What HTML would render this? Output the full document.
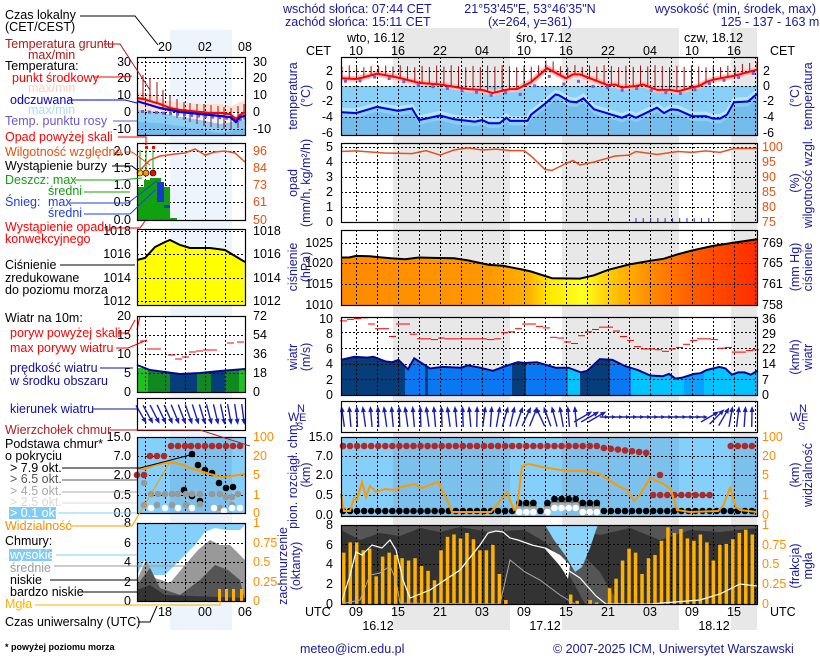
<!DOCTYPE html>
<html><head><meta charset="utf-8"><style>
body{margin:0;background:#fff;width:820px;height:660px;overflow:hidden}
svg{display:block;font-family:"Liberation Sans",sans-serif}
</style></head><body>
<svg id="s" width="820" height="660" viewBox="0 0 820 660" xmlns="http://www.w3.org/2000/svg">
<defs>
<linearGradient id="pg" x1="0" x2="1" y1="0" y2="0">
<stop offset="0" stop-color="#ff8a00"/><stop offset="0.35" stop-color="#ff9800"/><stop offset="0.45" stop-color="#ffb000"/>
<stop offset="0.5" stop-color="#ffe800"/><stop offset="0.58" stop-color="#ffff20"/><stop offset="0.66" stop-color="#ffc000"/>
<stop offset="0.75" stop-color="#ff8800"/><stop offset="0.85" stop-color="#ff5a00"/><stop offset="1" stop-color="#ff2c00"/>
</linearGradient>
</defs>
<rect x="393" y="28" width="117" height="602" fill="#e8e8e8"/>
<rect x="562" y="28" width="117" height="602" fill="#e8e8e8"/>
<rect x="731" y="28" width="26" height="602" fill="#e8e8e8"/>
<rect x="170" y="30" width="62" height="600" fill="#eef4fc"/>
<g id="g"></g>
<g font-size="12.5" fill="#1a1a9c">
<text x="283" y="13">wschód słońca: 07:44 CET</text>
<text x="285" y="26">zachód słońca: 15:11 CET</text>
<text x="530" y="13" text-anchor="middle">21°53'45"E, 53°46'35"N</text>
<text x="530" y="26" text-anchor="middle">(x=264, y=361)</text>
<text x="816" y="13" text-anchor="end">wysokość (min, środek, max)</text>
<text x="770" y="26" text-anchor="middle">125 - 137 - 163 m</text>
<text x="300" y="653">meteo@icm.edu.pl</text>
<text x="553" y="653">© 2007-2025 ICM, Uniwersytet Warszawski</text>
</g>
<g font-size="12.5" fill="#000">
<text x="347" y="42">wto, 16.12</text><text x="516" y="42">śro, 17.12</text><text x="684" y="42">czw, 18.12</text>
<text x="306" y="55">CET</text><text x="770" y="55">CET</text>
<text x="305" y="616">UTC</text><text x="770" y="616">UTC</text>
<text x="378" y="630" text-anchor="middle">16.12</text><text x="545" y="630" text-anchor="middle">17.12</text><text x="714" y="630" text-anchor="middle">18.12</text>
</g>
<g font-size="12.5">
<text x="5" y="19">Czas lokalny</text><text x="5" y="31">(CET/CEST)</text>
<text x="5" y="48" fill="#b01818">Temperatura gruntu</text><text x="28" y="59" fill="#b01818">max/min</text>
<text x="5" y="70">Temperatura:</text>
<text x="12" y="82" fill="#f00">punkt środkowy</text>
<text x="28" y="92" fill="#ffd0c0">max/min</text>
<text x="10" y="104" fill="#0000e0">odczuwana</text>
<text x="28" y="114" fill="#a8dcf8">max/min</text>
<text x="5" y="125" fill="#6a5ad0">Temp. punktu rosy</text>
<text x="5" y="141" fill="#f00">Opad powyżej skali</text>
<text x="5" y="156" fill="#e85010">Wilgotność względna</text>
<text x="5" y="170">Wystąpienie burzy</text>
<text x="5" y="184" fill="#10a010">Deszcz: max</text>
<text x="48" y="195" fill="#10a010">średni</text>
<text x="5" y="206" fill="#2040e0">Śnieg:</text><text x="48" y="206" fill="#2040e0">max</text>
<text x="48" y="217" fill="#2040e0">średni</text>
<text x="5" y="231" fill="#f00">Wystąpienie opadu</text><text x="5" y="243" fill="#f00">konwekcyjnego</text>
<text x="5" y="269">Ciśnienie</text><text x="5" y="282">zredukowane</text><text x="5" y="294">do poziomu morza</text>
<text x="5" y="322">Wiatr na 10m:</text>
<text x="10" y="337" fill="#f00">poryw powyżej skali</text>
<text x="10" y="352" fill="#f00">max porywy wiatru</text>
<text x="10" y="372" fill="#1010a0">prędkość wiatru</text><text x="10" y="385" fill="#1010a0">w środku obszaru</text>
<text x="10" y="413" fill="#1010a0">kierunek wiatru</text>
<text x="5" y="434" fill="#b02020">Wierzchołek chmur</text>
<text x="5" y="448">Podstawa chmur*</text><text x="5" y="460">o pokryciu</text>
<text x="10" y="472">&gt; 7.9 okt.</text>
<text x="10" y="483" fill="#555">&gt; 6.5 okt.</text>
<text x="10" y="495" fill="#a8a8a8">&gt; 4.5 okt.</text>
<text x="10" y="506" fill="#d8d8d8">&gt; 2.5 okt.</text>
<rect x="9" y="507" width="47" height="12" fill="#80ccf4"/><text x="10" y="517" fill="#fff">&gt; 0.1 okt.</text>
<text x="5" y="530" fill="#ff8c00">Widzialność</text>
<text x="5" y="545">Chmury:</text>
<rect x="9" y="549" width="43" height="12" fill="#80ccf4"/><text x="10" y="559" fill="#fff">wysokie</text>
<text x="10" y="572" fill="#999">średnie</text>
<text x="10" y="584">niskie</text>
<text x="10" y="596">bardzo niskie</text>
<text x="5" y="608" fill="#ffb000">Mgła</text>
<text x="5" y="626">Czas uniwersalny (UTC)</text>
<text x="5" y="650" font-size="9" font-weight="bold">* powyżej poziomu morza</text>
</g>
<g id="fg"></g>
</svg>
<script>
const NS="http://www.w3.org/2000/svg";
const G=document.getElementById('g'),F=document.getElementById('fg');
function el(p,t,a,txt){const e=document.createElementNS(NS,t);for(const k in a)e.setAttribute(k,a[k]);if(txt!==undefined)e.textContent=txt;p.appendChild(e);return e;}
function X(h){return 356+7*(h-10);}
function interp(d,h){if(h<=d[0][0])return d[0][1];for(let i=1;i<d.length;i++){if(h<=d[i][0]){const a=d[i-1],b=d[i];return a[1]+(b[1]-a[1])*(h-a[0])/(b[0]-a[0]);}}return d[d.length-1][1];}
function pts(d,fx,fy){return d.map(p=>fx(p[0]).toFixed(1)+","+fy(p[1]).toFixed(1)).join(" ");}
const H0=7.86,H1=67.3;
const L=341,R=757;
function grid(p,x0,x1,y0,y1,xs,ys){xs.forEach(x=>el(p,'line',{x1:x,x2:x,y1:y0,y2:y1,stroke:'#000','stroke-dasharray':'2,2','stroke-width':1}));ys.forEach(y=>el(p,'line',{x1:x0,x2:x1,y1:y,y2:y,stroke:'#000','stroke-dasharray':'2,2','stroke-width':1}));}
function box(p,x0,x1,y0,y1){el(p,'rect',{x:x0+.5,y:y0+.5,width:x1-x0,height:y1-y0,fill:'none',stroke:'#000','stroke-width':1.2});}
const mx=[];for(let x=356;x<R;x+=21)mx.push(x+.5);
const lxs=[145.5,165.5,185.5,205.5,225.5];
function labels(p,xl,xr,arr,cl,cr){arr.forEach(a=>{el(p,'text',{x:xl,y:a[0]+4,'text-anchor':'end','font-size':12.5,fill:cl||'#000'},a[1]);if(a[2]!==undefined)el(p,'text',{x:xr,y:a[0]+4,'font-size':12.5,fill:cr||'#000'},a[2]);});}
// ===== MAIN TEMPERATURE =====
const Ty=t=>86-7.75*t;
el(G,'rect',{x:L,y:57,width:R-L,height:78,fill:'#fff'});
el(G,'rect',{x:393,y:57,width:117,height:29,fill:'#e8e8e8'});el(G,'rect',{x:562,y:57,width:117,height:29,fill:'#e8e8e8'});el(G,'rect',{x:731,y:57,width:26,height:29,fill:'#e8e8e8'});
el(G,'rect',{x:L,y:86,width:R-L,height:49,fill:'#88d0f8'});
const feel=[[7.86,-3.4],[10,-3.5],[13,-2.7],[16,-3.2],[18,-2.9],[19,-4.4],[22,-3.8],[24,-4.3],[27,-4.6],[28,-4.4],[29,-4.8],[30.5,-4.8],[31.5,-4.1],[32,-4.5],[34.5,-4.5],[35,-3.7],[37,-2.3],[38.5,-1.1],[39,-1.2],[40.5,-2],[41.5,-2.1],[42.5,-1.6],[44,-3],[48,-4.1],[49,-3.7],[50,-4.1],[53,-2.8],[54,-3.5],[55,-3],[56,-3.1],[58,-3.9],[60,-3.9],[61,-4.2],[62,-4.2],[63,-3.7],[64,-2.1],[66,-2],[67.3,-1]];
el(G,'polygon',{points:X(H0)+",135 "+pts(feel.map(p=>[p[0],p[1]-0.6]),X,Ty)+" "+R+",135",fill:'#74bceb'});
el(G,'polyline',{points:pts(feel.map(p=>[p[0],p[1]+0.4]),X,Ty),fill:'none',stroke:'#b8e4fc','stroke-width':3});
const tmp=[[7.86,1],[10,0.9],[11,1.1],[13,1.6],[16,1.1],[19,0.4],[22,0.2],[26,-0.4],[28,-0.5],[29.5,-0.9],[32,-0.4],[33,-0.4],[35,0.5],[37.3,2.3],[40,1],[41,1.5],[42,1.5],[46,0.1],[47,0.2],[48,-0.2],[50,0],[51,0.2],[53,-0.5],[55,-0.5],[56,-0.7],[58,-0.2],[59,0],[60,0.5],[61,0.8],[62,1],[64,1.3],[67.3,2.1]];
el(G,'polyline',{points:pts(tmp,X,Ty),fill:'none',stroke:'#ffc0c0','stroke-width':6});
for(let h=8;h<67.5;h+=1.04){const t=interp(tmp,h);el(G,'line',{x1:X(h),x2:X(h),y1:Ty(Math.max(t+1.3,2.7)-0.1*((h*7)%3)),y2:Ty(t),stroke:'#a01010','stroke-width':1});}
grid(G,L,R,57,135,mx,[71.5,86.5,101.5,117.5]);
for(let h=8.5;h<67;h+=2.08){const t=interp(tmp,h)-(h>33&&h<45?0.9:0.35);el(G,'rect',{x:X(h)-1.5,y:Ty(t)-1.5,width:3,height:3,fill:'#7060e0'});}
el(G,'polyline',{points:pts(tmp,X,Ty),fill:'none',stroke:'#f00','stroke-width':2});
el(G,'polyline',{points:pts(feel,X,Ty),fill:'none',stroke:'#0000d8','stroke-width':2});
box(G,L,R,57,135);
labels(G,333,763,[[71,'2','2'],[86,'0','0'],[101,'-2','-2'],[117,'-4','-4'],[133,'-6','-6']],'#000','#000');
// ===== MAIN PRECIP =====
grid(G,L,R,143,222,mx,[147.5,162.5,177.5,192.5,207.5]);
const hum=[[7.86,98.5],[10,98.7],[14,98],[18,97.8],[20,98.8],[22,97.3],[24,99],[26,99.7],[28,99],[30,99.3],[32,98.8],[34,98.8],[35,97],[37,92.5],[38,92.2],[40,94.5],[41,95.5],[42,94],[44,95],[47,97],[49,97.3],[50,98.5],[53,97.5],[56,98.5],[58,98.2],[60,98.7],[62,98.2],[64,99.5],[67.3,99.5]];
el(G,'polyline',{points:pts(hum,X,v=>147+(100-v)*3),fill:'none',stroke:'#e85020','stroke-width':1.5});
for(let h=50;h<60.5;h+=1.04)el(G,'line',{x1:X(h),x2:X(h),y1:222,y2:218,stroke:'#2030e0','stroke-width':1});
box(G,L,R,143,222);
labels(G,333,762,[[147,'5','100'],[162,'4','95'],[177,'3','90'],[192,'2','85'],[207,'1','80'],[222,'0','75']],'#000','#e85010');
// ===== MAIN PRESSURE =====
const Py=p=>305-(p-1010)*4.13;
const pr=[[7.86,1021.5],[9,1021.5],[10,1021.9],[12,1021.8],[15,1021.3],[17,1021.1],[19,1021.5],[21,1021.4],[24,1021.3],[26,1020.8],[29,1019.7],[31,1019.5],[34,1018.5],[35,1018.1],[38,1016.5],[42,1016.4],[44,1017.2],[46,1018.5],[49,1019.8],[52,1020.7],[54,1021.2],[56,1022.3],[58,1023.2],[61,1024.3],[64,1025.1],[67.3,1025.9]];
el(G,'polygon',{points:X(H0)+",305 "+pts(pr,X,Py)+" "+R+",305",fill:'url(#pg)'});
grid(G,L,R,230,305,mx,[243.5,263.5,284.5]);
el(G,'polyline',{points:pts(pr,X,Py),fill:'none',stroke:'#000','stroke-width':2});
box(G,L,R,230,305);
labels(G,333,762,[[243,'1025','769'],[263,'1020','765'],[284,'1015','761'],[305,'1010','758']],'#000','#000');
// ===== MAIN WIND =====
const Wy=v=>395-7.8*v;
const ws=[[7.86,4.5],[10,4.9],[12,4.8],[13,4.9],[15,4.3],[16,4.2],[17,4.5],[18.5,3.3],[19.5,4.7],[22,3.4],[24,3.6],[27,3.5],[28,3.8],[30,3.5],[32,3.1],[34,3.7],[36,4.2],[37,4.1],[39,4.2],[42,3.5],[44,3.5],[46,2.9],[47,3.1],[49,4.6],[51,4.5],[53,3.7],[55,3.2],[57,2.5],[59,2.4],[60,2.7],[61,2.1],[62,2.2],[64,2.7],[65,2.8],[66,3.2],[68,3.6],[69,3.4],[70,2.6],[71,2.9],[72,2.9],[73,2.6],[74,3.1]];
const wsc=ws.map(p=>[H0+(p[0]-H0)*(H1-H0)/(74-H0),p[1]]);
el(G,'clipPath',{id:'wc'});
const cp=document.getElementById('wc');el(cp,'polygon',{points:X(H0)+",395 "+pts(wsc,X,Wy)+" "+R+",395"});
const wg=el(G,'g',{'clip-path':'url(#wc)'});
[[341,405,'#063e7c'],[405,425,'#0a78f0'],[425,428,'#063e7c'],[428,512,'#0a78f0'],[512,526,'#063e7c'],[526,568,'#0a78f0'],[568,580,'#00c4ff'],[580,610,'#063e7c'],[610,631,'#0a78f0'],[631,684,'#00c4ff'],[684,704,'#0aa0ff'],[704,757,'#00c4ff']].forEach(s=>el(wg,'rect',{x:s[0],y:300,width:s[1]-s[0],height:95,fill:s[2]}));
grid(G,L,R,317,395,mx,[332.5,348.5,364.5,379.5]);
el(G,'polyline',{points:pts(wsc,X,Wy),fill:'none',stroke:'#08088a','stroke-width':2});
const gust=[[343,9.5],[350,9.7],[357,9.8],[364,9.9],[371,9.1],[378,8.5],[385,8.5],[392,7.5],[399,9.1],[406,9.1],[413,7.8],[420,7.2],[427,7.2],[434,7.1],[441,7.3],[448,7.2],[455,7.2],[462,7.2],[469,7.2],[476,7.2],[483,7.2],[490,7.1],[497,7.2],[504,8],[511,8.1],[518,8.5],[525,9.1],[532,9.1],[539,8.8],[546,8.6],[553,7.4],[560,7.3],[567,6.8],[574,6.6],[581,7.6],[588,8.1],[595,8.4],[602,8.7],[609,8.7],[616,8.2],[623,7.5],[630,7],[637,6.2],[644,5.9],[651,5.9],[658,5.8],[665,5.6],[672,5.9],[679,6.1],[686,6.5],[693,7],[700,7.2],[707,7.2],[714,7.1],[721,6],[728,6.1],[735,5.5],[742,5.5],[749,5.7],[755,5.8]];
gust.forEach(g=>el(G,'line',{x1:g[0]-3,x2:g[0]+4,y1:Wy(g[1]),y2:Wy(g[1]),stroke:'#f00','stroke-width':1}));
box(G,L,R,317,395);
labels(G,333,762,[[319,'10','36'],[334,'8','29'],[349,'6','22'],[364,'4','14'],[380,'2','7'],[395,'0','0']],'#000','#000');
// ===== MAIN WIND DIR =====
el(G,'rect',{x:L,y:401,width:R-L,height:31,fill:'#fff'});
grid(G,L,R,401,432,mx,[]);
for(let i=0;i<59;i++){const x=343+i*7.05;let ang;
 if(i<28)ang=-8+ (i>17? (i-17)*3:0)+ (i%3)*3; else if(i<32)ang=-25+(i-28)*5; else if(i<34)ang=-5; else if(i<37)ang=60; else if(i<52)ang=85; else if(i<55)ang=60-(i-52)*15; else ang=10-(i-55)*3;
 if(i>=37&&i<52){el(G,'line',{x1:x-4,x2:x+4,y1:417,y2:417,stroke:'#1a20b0','stroke-width':1.5});el(G,'polygon',{points:(x+5)+",417 "+(x+1)+",415 "+(x+1)+",419",fill:'#1a20b0'});continue;}
 const g=el(G,'g',{transform:`translate(${x},417) rotate(${ang})`});
 el(g,'line',{x1:0,x2:0,y1:10,y2:-9,stroke:'#1a20b0','stroke-width':1.4});el(g,'polygon',{points:"0,-11 -2.5,-5 2.5,-5",fill:'#1a20b0'});}
box(G,L,R,401,432);
// ===== MAIN CLOUD HEIGHT =====
el(G,'rect',{x:L,y:437,width:R-L,height:79,fill:'#84d0fa'});
[[393,510],[562,679],[731,757]].forEach(b=>el(G,'rect',{x:b[0],y:437,width:b[1]-b[0],height:79,fill:'#7cc0ec'}));
grid(G,L,R,437,516,mx,[456.5,475.5,495.5]);
function dot(p,x,y,c,r){el(p,'circle',{cx:x,cy:y,r:r||3.3,fill:c});}
for(let i=0;i<59;i++){const x=343+i*7.05;
 if(i<44||i>=55)dot(G,x,i>36&&i<44?448+(i-37)*0.8:446,'#b02828');
 if(i>=44&&i<53)dot(G,x,495,'#b02828');
 let by=511; if(i>=25&&i<37&&i!==28){by=503;if(i>=30&&i<34)by=499;}
 if(by<511){for(let k=0;k<3;k++)dot(G,x,by+k*3,['#000','#555','#aaa'][k]);dot(G,x,by+9,'#fff');dot(G,x,by,'#000');}
 else dot(G,x,511,'#000');}
dot(G,660,475,'#b02828');
const vis=[[341,494],[344,511],[350,511],[354,498],[357,500],[362,482],[366,497],[370,486],[376,492],[385,489],[395,490],[402,487],[414,484],[422,488],[438,482],[447,500],[452,512],[469,512],[491,512],[500,501],[507,492],[514,510],[517,508],[522,466],[529,464],[542,467],[567,471],[585,471],[600,474],[618,486],[627,490],[634,501],[640,495],[650,478],[664,484],[671,490],[677,510],[690,512],[718,511],[723,506],[730,488],[736,507],[740,510],[757,512]];
el(G,'polyline',{points:vis.map(p=>p.join(',')).join(' '),fill:'none',stroke:'#ff9800','stroke-width':2});
box(G,L,R,437,516);
labels(G,333,762,[[437,'15.0','100'],[456,'7.0','20'],[475,'2.0','5'],[495,'0.5','1'],[515,'0.0','0']],'#000','#ff8c00');
// ===== MAIN CLOUD COVER =====
el(G,'rect',{x:L,y:525,width:R-L,height:79,fill:'#333'});
el(G,'path',{d:"M341,525 L341,530 L360,540 L380,533 L400,536 L420,528 L440,532 L460,527 L490,532 L520,530 L545,528 L560,526 L600,535 L630,528 L660,540 L690,530 L720,532 L757,528 L757,525 Z",fill:'#555'});
el(G,'path',{d:"M513,525 L528,532 L545,542 L560,558 L572,580 L585,604 L620,604 L610,590 L600,572 L588,560 L580,525 Z",fill:'#555'});
el(G,'path',{d:"M545,525 L554,540 L565,555 L575,572 L582,567 L590,548 L596,530 L598,525 Z",fill:'#88d4fc'});
el(G,'path',{d:"M545,547 L556,560 L564,572 L568,579 L570,565 L560,555 Z",fill:'#fff'});
grid(G,L,R,525,604,mx,[544.5,564.5,584.5]);
const fog=[0.65,0.78,0.78,0.68,0.7,0.35,0.6,0.65,0.62,0.58,0.55,0.58,0.48,0.42,0.3,0.68,0.85,0.88,0.83,0.9,0.82,0.68,0.68,0.75,0.38,0.05,0,0,0,0,0,0,0,0,0,0.12,0.04,0,0.05,0.02,0,0.2,0.32,0.55,0.7,0.65,0.38,0.58,0.62,0.8,0.97,0.9,0.95,0.83,0.8,0.88,0.78,0.55,0.75,0.76,0.82,0.9,0.94,0.88];
fog.forEach((f,i)=>{if(f<=0.01)return;const x=342+i*(415/fog.length);el(G,'rect',{x:x,y:604-79*f,width:3.5,height:79*f,fill:'#ffb000'});});
el(G,'polyline',{points:"341,604 350,575 356,552 362,555 372,545 382,548 390,540 396,550 403,580 410,598 430,590 460,570 480,545 488,533 496,531 503,532 510,538 518,540 532,545 545,548 560,565 580,578 596,596 606,604 650,604 700,600 720,594 740,584 757,586",fill:'none',stroke:'#fff','stroke-width':1.2});
el(G,'polyline',{points:"341,604 360,600 370,575 380,573 390,566 396,580 400,603 500,604 510,560 525,572 540,580 560,595 575,604",fill:'none',stroke:'#aaa','stroke-width':1});
box(G,L,R,525,604);
labels(G,333,762,[[525,'8','1'],[545,'6','0.75'],[564,'4','0.5'],[584,'2','0.25'],[604,'0','0']],'#000','#ff8c00');
['10','16','22','04','10','16','22','04','10','16'].forEach((t,i)=>el(G,'text',{x:356+42*i,y:55,'text-anchor':'middle','font-size':12.5},t));
['09','15','21','03','09','15','21','03','09','15'].forEach((t,i)=>el(G,'text',{x:356+42*i,y:616,'text-anchor':'middle','font-size':12.5},t));
function vt(x,y,lines){lines.forEach((l,i)=>el(G,'text',{x:0,y:0,transform:`translate(${x+i*13},${y}) rotate(-90)`,'text-anchor':'middle','font-size':12.5,fill:'#1a1a9c'},l));}
vt(297,96,['temperatura','(°C)']);vt(799,96,['(°C)','temperatura']);
vt(297,183,['opad','(mm/h, kg/m²/h)']);vt(799,183,['(%)','wilgotność wzgl.']);
vt(297,267,['ciśnienie','(hPa)']);vt(799,267,['(mm Hg)','ciśnienie']);
vt(297,357,['wiatr','(m/s)']);vt(799,357,['(km/h)','wiatr']);
vt(297,475,['pion. rozciągł. chm.','(km)']);vt(799,475,['(km)','widzialność']);
vt(287,566,['zachmurzenie','(oktanty)']);vt(799,566,['(frakcja)','mgła']);
[288,790].forEach(c=>{el(G,'text',{x:c,y:421,'font-size':12,fill:'#1a1a9c'},'W');el(G,'text',{x:c+9,y:412,'font-size':11,fill:'#1a1a9c'},'N');el(G,'text',{x:c+11,y:421,'font-size':11,fill:'#1a1a9c'},'E');el(G,'text',{x:c+8,y:430,'font-size':11,fill:'#1a1a9c'},'S');});
// ===== LEFT MINI PANELS =====
const l0=137,l1=245;
el(G,'polygon',{points:"137,112 137,92 150,94 165,100 180,103 200,104 220,104 232,106 245,100 245,112",fill:'#fde0d4'});
el(G,'polygon',{points:"137,135 137,110 160,112 175,116 200,120 220,124 245,120 245,135",fill:'#8ccff3'});
el(G,'polygon',{points:"137,135 137,122 160,123 180,126 200,130 220,133 245,128 245,135",fill:'#74bceb'});
grid(G,l0,l1,57,135,lxs,[62.5,78.5,95.5,112.5,129.5]);
const gt=[[143,75,98],[150,78,100],[157,82,104],[163,90,110],[170,95,114],[177,99,118],[184,102,120],[190,103,122],[197,104,124],[204,104,126],[211,105,127],[218,106,128],[224,107,129],[231,108,130],[238,106,128],[244,104,120]];
gt.forEach(v=>el(G,'line',{x1:v[0],x2:v[0],y1:v[1],y2:v[2],stroke:'#a01010'}));
for(let x=141;x<245;x+=7)el(G,'rect',{x:x,y:110+Math.min((x-141)*0.08,8),width:3,height:3,fill:'#7060e0'});
el(G,'polyline',{points:"137,98 143,99 150,101 160,104 170,108 180,110 190,111 200,112 210,113 220,113 230,114 236,119 240,115 245,112",fill:'none',stroke:'#f00','stroke-width':2.2});
el(G,'polyline',{points:"137,101 143,103 150,105 160,108 170,110 180,112 190,113 200,114 210,115 220,116 230,117 236,122 240,117 245,116",fill:'none',stroke:'#0000d8','stroke-width':2.2});
box(G,l0,l1,57,135);
labels(G,131,253,[[62,'30','30'],[78,'20','20'],[95,'10','10'],[112,'0','0'],[129,'-10','-10']]);
grid(G,l0,l1,143,220,lxs,[151.5,168.5,185.5,202.5]);
el(G,'rect',{x:137,y:187,width:33,height:33,fill:'#10a010'});el(G,'rect',{x:144,y:180,width:12,height:40,fill:'#10a010'});el(G,'rect',{x:150,y:178,width:11,height:42,fill:'#10a010'});
el(G,'rect',{x:157,y:182,width:7,height:20,fill:'#1838d0'});el(G,'rect',{x:164,y:205,width:6,height:15,fill:'#10a010'});el(G,'rect',{x:164,y:205,width:6,height:3,fill:'#1838d0'});el(G,'rect',{x:170,y:218,width:7,height:2,fill:'#10a010'});
[[140,'#ffd400'],[146,'#ff9000'],[153,'#f00']].forEach(c=>{el(G,'line',{x1:c[0],x2:c[0],y1:150,y2:173,stroke:'#10a010'});el(G,'circle',{cx:c[0],cy:173,r:3,fill:c[1],stroke:'#000','stroke-width':.6});});
el(G,'rect',{x:145,y:146,width:3,height:3,fill:'#f00'});el(G,'rect',{x:152,y:146,width:3,height:3,fill:'#f00'});
el(G,'polyline',{points:"137,173 145,165 150,160 160,156 175,154 185,153 195,149 205,155 215,152 225,151 235,153 245,162",fill:'none',stroke:'#e85020','stroke-width':1.5});
box(G,l0,l1,143,220);
labels(G,131,253,[[151,'2.0','96'],[168,'1.5','84'],[185,'1.0','73'],[202,'0.5','61'],[220,'0.0','50']],'#000','#e85010');
el(G,'polygon',{points:"137,305 137,260 145,258 155,247 165,242 170,240 180,245 190,248 210,248 225,250 245,262 245,305",fill:'#ffff00'});
grid(G,l0,l1,229,305,lxs,[231.5,254.5,278.5,301.5]);
el(G,'polyline',{points:"137,260 145,258 155,247 165,242 170,240 180,245 190,248 210,248 225,250 245,262",fill:'none',stroke:'#000','stroke-width':2});
box(G,l0,l1,229,305);
labels(G,131,253,[[231,'1018','1018'],[254,'1016','1016'],[278,'1014','1014'],[301,'1012','1012']]);
el(G,'rect',{x:137,y:368,width:108,height:24,fill:'#108a20'});
el(G,'rect',{x:137,y:368,width:11,height:24,fill:'#20c020'});el(G,'rect',{x:239,y:368,width:6,height:24,fill:'#20c020'});
el(G,'rect',{x:170,y:368,width:27,height:24,fill:'#063e7c'});el(G,'rect',{x:211,y:368,width:14,height:24,fill:'#063e7c'});
el(G,'polygon',{points:"137,316 137,365 150,370 165,372 180,374 200,373 220,371 245,369 245,316",fill:'#fff'});
grid(G,l0,l1,316,392,lxs,[335.5,354.5,373.5]);
el(G,'polyline',{points:"137,365 150,370 165,372 180,374 200,373 220,371 245,369",fill:'none',stroke:'#08088a','stroke-width':2});
el(G,'polyline',{points:"137,330 140,316",fill:'none',stroke:'#f00'});
[[143,341],[150,349],[157,349],[171,355],[178,359],[185,357],[192,352],[199,351],[206,350],[213,350],[230,343],[240,342]].forEach(g=>el(G,'line',{x1:g[0]-3,x2:g[0]+4,y1:g[1],y2:g[1],stroke:'#f00'}));
box(G,l0,l1,316,392);
labels(G,131,253,[[316,'20','72'],[335,'15','54'],[354,'10','36'],[373,'5','18'],[392,'0','0']]);
el(G,'rect',{x:137,y:398,width:108,height:32,fill:'#fff'});grid(G,l0,l1,398,430,lxs,[]);
for(let i=0;i<16;i++){const x=141+i*6.8;const g=el(G,'g',{transform:`translate(${x},414) rotate(${150+i*1.5})`});el(g,'line',{x1:0,x2:0,y1:10,y2:-9,stroke:'#1a20b0','stroke-width':1.4});el(g,'polygon',{points:"0,-11 -2.5,-5 2.5,-5",fill:'#1a20b0'});}
box(G,l0,l1,398,430);
el(G,'rect',{x:137,y:437,width:108,height:76,fill:'#84d0fa'});el(G,'rect',{x:170,y:437,width:62,height:76,fill:'#7cc0ec'});
grid(G,l0,l1,437,513,lxs,[456.5,475.5,495.5]);
[[150,456],[157,456],[164,456],[171,446],[178,446],[185,446],[191,446],[198,446],[205,446],[212,446],[219,446],[226,446],[233,446],[240,446],[137,475],[144,475]].forEach(d=>dot(G,d[0],d[1],'#b02828'));
[[192,454],[198,465],[205,470],[212,473],[219,483],[226,488],[233,487],[184,490],[192,496],[200,501]].forEach(d=>dot(G,d[0],d[1],'#000'));
[[144,483],[151,494],[158,494],[165,494],[172,494],[178,494],[186,494],[192,494],[200,494],[212,494],[220,494],[226,497],[232,497],[238,494],[144,505],[157,505],[172,505],[186,505],[200,504],[220,508],[232,505]].forEach(d=>dot(G,d[0],d[1],'#999'));
[[151,508],[165,508],[178,508],[192,508],[214,508],[224,511],[232,508],[240,508]].forEach(d=>dot(G,d[0],d[1],'#fff'));
el(G,'polyline',{points:"137,469 145,469 155,465 170,462 180,464 190,468 200,471 210,474 220,477 232,476 245,474",fill:'none',stroke:'#ff9800','stroke-width':2});
box(G,l0,l1,437,513);
labels(G,131,253,[[437,'15.0','100'],[456,'7.0','20'],[475,'2.0','5'],[495,'0.5','1'],[513,'0.0','0']],'#000','#ff8c00');
el(G,'rect',{x:137,y:523,width:108,height:78,fill:'#84d0fa'});
el(G,'polygon',{points:"137,601 137,575 145,560 152,575 165,575 180,560 195,545 205,532 215,528 225,530 240,530 245,525 245,601",fill:'#fff'});
el(G,'polygon',{points:"137,601 137,580 146,560 155,578 170,583 185,565 198,550 210,540 220,545 230,545 245,560 245,601",fill:'#999'});
el(G,'polygon',{points:"137,601 137,585 150,568 160,588 180,595 200,580 215,565 228,570 240,580 245,601",fill:'#555'});
el(G,'polygon',{points:"137,601 137,590 150,585 165,595 245,598 245,601",fill:'#333'});
grid(G,l0,l1,523,601,lxs,[543.5,562.5,582.5]);
[218,225,232,240].forEach(x=>el(G,'rect',{x:x,y:589,width:3,height:12,fill:'#ffb000'}));
box(G,l0,l1,523,601);
labels(G,131,253,[[523,'8','1'],[543,'6','0.75'],[562,'4','0.5'],[582,'2','0.25'],[601,'0','0']],'#000','#ff8c00');
[['20',165],['02',205],['08',245]].forEach(t=>el(G,'text',{x:t[1],y:51,'text-anchor':'middle','font-size':12.5},t[0]));
[['18',165],['00',205],['06',245]].forEach(t=>el(G,'text',{x:t[1],y:616,'text-anchor':'middle','font-size':12.5},t[0]));
const ll=[["#000","80,16 135,16 158,45"],["#b01818","104,44 120,44 150,90"],["#f00","93,77 117,77 132,76"],["#0000e0","68,100 125,100 137,103"],["#6a5ad0","113,121 137,121"],["#f00","118,137 146,137 146,145"],["#e85010","126,152 132,152 150,165"],["#000","112,166 132,166 137,170"],["#10a010","75,180 120,180 142,178"],["#10a010","84,192 130,192"],["#2040e0","70,203 128,203 158,180"],["#2040e0","84,214 130,214 155,190"],["#f00","110,228 140,228 145,221"],["#000","60,265 135,265"],["#f00","118,333 128,333 135,320"],["#f00","116,348 128,348 147,340"],["#1010a0","100,368 133,368"],["#1010a0","92,409 137,409"],["#b02020","110,430 200,430 250,446"],["#000","62,468 140,468 190,455"],["#555","62,480 137,480"],["#a8a8a8","62,492 137,492"],["#d8d8d8","62,503 137,503"],["#80ccf4","58,513 137,513"],["#ff9800","70,526 132,526 170,462"],["#80ccf4","56,555 137,555"],["#999","54,566 200,566"],["#000","50,580 137,580"],["#000","80,592 137,592"],["#ffb000","35,605 220,605 220,600"],["#000","138,622 150,622 157,606"]];
ll.forEach(l=>el(F,'polyline',{points:l[1],fill:'none',stroke:l[0],'stroke-width':1}));
</script>
</body></html>
